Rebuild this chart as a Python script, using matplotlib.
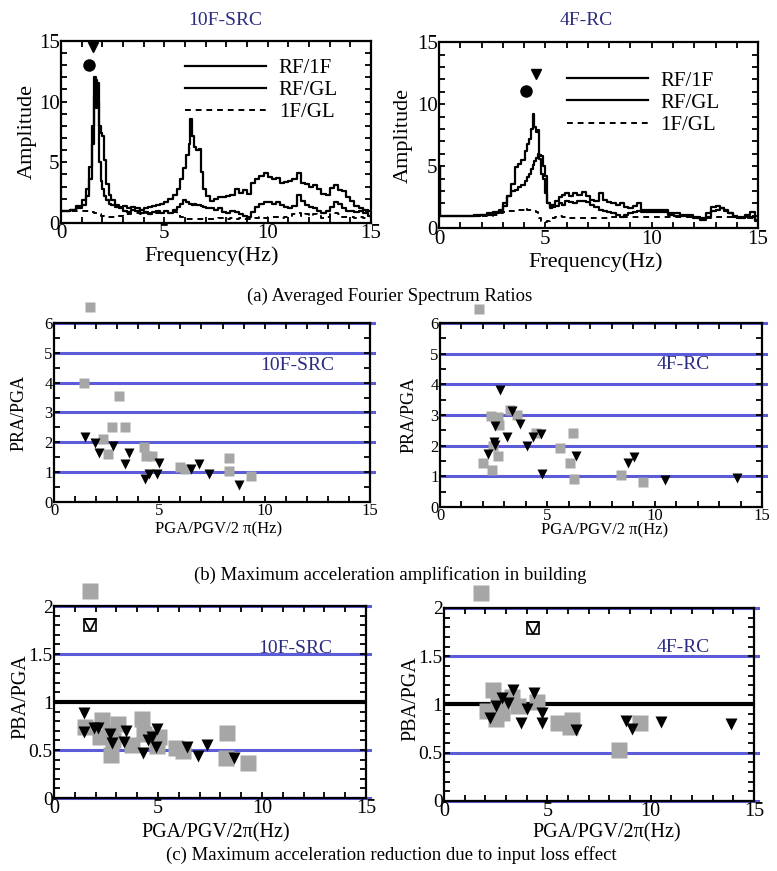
import matplotlib.pyplot as plt
from matplotlib.lines import Line2D
from matplotlib.ticker import MultipleLocator, FuncFormatter

plt.rcParams['font.family'] = ['Liberation Serif', 'DejaVu Serif']

NAVY = '#2b2b80'
BLUE = '#5c5cd8'
GRAY = '#a6a6a6'

# ---- (a) averaged Fourier spectrum ratios, 10F-SRC ----
freq_src = [0.0, 0.3, 0.6, 0.9, 1.1, 1.3, 1.45, 1.55, 1.65, 1.72,
            1.8, 1.88, 1.96, 2.05, 2.15, 2.25, 2.35, 2.5, 2.7, 2.9,
            3.1, 3.3, 3.5, 3.7, 3.9, 4.1, 4.3, 4.5, 4.7, 4.9,
            5.1, 5.3, 5.5, 5.7, 5.85, 6.0, 6.12, 6.22, 6.3, 6.38,
            6.48, 6.6, 6.72, 6.82, 6.95, 7.1, 7.3, 7.5, 7.7, 7.9,
            8.1, 8.3, 8.5, 8.7, 8.9, 9.1, 9.3, 9.5, 9.7, 9.9,
            10.1, 10.3, 10.5, 10.7, 10.9, 11.1, 11.3, 11.5, 11.7, 11.9,
            12.1, 12.3, 12.5, 12.7, 12.9, 13.1, 13.3, 13.5, 13.7, 13.9,
            14.1, 14.3, 14.5, 14.7, 15.0]
src_rf_gl = [1.0, 1.0, 1.1, 1.4, 1.9, 2.8, 4.6, 8.0, 12.0, 9.5,
             11.5, 8.0, 7.4, 7.2, 5.2, 3.2, 2.3, 1.9, 1.5, 1.3,
             1.4, 1.2, 1.3, 1.2, 1.1, 1.2, 1.3, 1.4, 1.5, 1.6,
             1.7, 2.0, 2.3, 2.8, 3.6, 4.5, 5.6, 6.5, 8.6, 7.2,
             6.3, 6.0, 6.1, 4.2, 2.8, 2.2, 1.8, 2.0, 2.1, 2.1,
             2.2, 2.3, 2.8, 2.5, 2.7, 2.4, 3.3, 3.6, 3.9, 4.1,
             3.8, 3.6, 3.7, 3.3, 3.4, 3.5, 3.6, 4.1, 3.3, 3.2,
             3.0, 3.1, 2.8, 2.4, 2.3, 2.9, 3.1, 2.7, 2.6, 2.1,
             1.8, 1.4, 1.2, 1.1, 1.0]
src_rf_1f = [1.0, 1.0, 1.1, 1.2, 1.5, 2.2, 3.6, 6.5, 10.5, 11.8,
             10.0, 5.0, 3.5, 2.8, 2.2, 1.9, 1.6, 1.5, 1.3, 1.2,
             1.0, 0.9, 1.1, 1.0, 0.8, 0.9, 0.7, 0.9, 1.0, 0.8,
             1.0, 0.8, 1.1, 1.3, 1.6, 1.9, 1.7, 1.6, 1.6, 1.5,
             1.6, 1.5, 1.5, 1.4, 1.3, 1.2, 1.2, 1.1, 1.2, 0.9,
             0.8, 1.0, 0.9, 0.7, 0.6, 0.5, 0.9, 1.3, 1.6, 1.7,
             1.7, 1.6, 1.7, 1.5, 1.3, 1.2, 1.4, 2.3, 1.8, 1.5,
             1.3, 1.2, 1.0, 0.8, 1.0, 1.3, 1.7, 1.6, 1.2, 1.0,
             1.0, 0.9, 1.0, 0.8, 0.6]
src_1f_gl = [1.0, 1.0, 1.0, 1.0, 1.0, 1.0, 1.0, 0.9, 0.85, 0.8,
             0.8, 0.7, 0.6, 0.55, 0.5, 0.5, 0.5, 0.5, 0.55, 0.6,
             0.7, 0.7, 0.8, 0.8, 0.7, 0.8, 0.8, 0.9, 0.8, 0.9,
             1.0, 1.0, 0.9, 0.7, 0.5, 0.4, 0.3, 0.3, 0.3, 0.3,
             0.3, 0.3, 0.3, 0.3, 0.3, 0.3, 0.3, 0.3, 0.4, 0.4,
             0.3, 0.4, 0.3, 0.4, 0.3, 0.3, 0.3, 0.4, 0.5, 0.4,
             0.5, 0.5, 0.5, 0.4, 0.5, 0.6, 0.7, 0.8, 0.6, 0.7,
             0.6, 0.7, 0.6, 0.4, 0.5, 0.7, 0.8, 0.7, 0.5, 0.5,
             0.5, 0.4, 0.5, 0.4, 0.4]
src_peak_circle = (1.35, 13.0)
src_peak_tri = (1.56, 14.5)

# ---- (a) averaged Fourier spectrum ratios, 4F-RC ----
freq_rc = [0.0, 0.08, 0.3, 0.6, 0.9, 1.2, 1.5, 1.8, 2.1, 2.4,
           2.7, 2.9, 3.1, 3.3, 3.5, 3.65, 3.8, 3.95, 4.1, 4.2,
           4.3, 4.38, 4.45, 4.52, 4.6, 4.68, 4.76, 4.85, 4.95, 5.05,
           5.15, 5.25, 5.4, 5.55, 5.7, 5.85, 6.0, 6.2, 6.4, 6.6,
           6.8, 7.0, 7.2, 7.4, 7.6, 7.8, 8.0, 8.2, 8.4, 8.6,
           8.8, 9.0, 9.2, 9.4, 9.6, 9.8, 10.0, 10.3, 10.6, 10.9,
           11.2, 11.5, 11.8, 12.1, 12.4, 12.7, 12.9, 13.1, 13.3, 13.5,
           13.7, 13.9, 14.1, 14.3, 14.5, 14.7, 15.0]
rc_rf_gl = [5.0, 1.0, 1.0, 1.0, 1.0, 1.0, 1.0, 1.1, 1.1, 1.2,
            1.3, 1.5, 2.0, 2.6, 3.6, 4.9, 5.2, 5.5, 6.2, 6.8,
            7.2, 8.0, 9.2, 8.2, 7.8, 7.9, 5.6, 4.4, 4.0, 2.8,
            2.0, 1.7, 1.9, 2.2, 2.5, 2.7, 2.8, 2.6, 2.8, 2.7,
            2.9, 2.6, 2.3, 2.2, 2.8, 2.3, 2.1, 2.0, 1.9, 2.0,
            1.7, 1.6, 1.8, 2.0, 1.3, 1.3, 1.3, 1.3, 1.3, 1.2,
            1.2, 1.1, 1.1, 0.9, 0.8, 1.2, 1.7, 1.8, 1.6, 1.5,
            1.2, 1.0, 0.9, 0.9, 1.1, 1.3, 0.7]
rc_rf_1f = [5.0, 1.0, 1.0, 1.0, 1.0, 1.0, 1.0, 1.0, 1.1, 1.1,
            1.2, 1.3, 1.8, 2.6, 3.0, 3.1, 3.3, 3.5, 3.8, 4.1,
            4.4, 4.8, 5.1, 5.4, 5.7, 6.0, 5.9, 5.8, 5.0, 4.2,
            2.0, 1.6, 1.7, 1.8, 2.0, 1.9, 2.2, 2.1, 2.0, 2.2,
            2.2, 2.1, 1.9, 1.7, 1.5, 1.4, 1.3, 1.2, 1.1, 0.9,
            1.1, 1.2, 1.3, 1.4, 1.5, 1.5, 1.5, 1.5, 1.5, 1.1,
            1.0, 1.0, 1.0, 0.8, 0.7, 0.9, 1.4, 1.5, 1.6, 1.4,
            1.2, 0.9, 0.8, 0.8, 0.9, 0.9, 0.6]
rc_1f_gl = [1.0, 1.0, 1.0, 1.0, 1.0, 1.0, 1.0, 1.0, 1.0, 1.0,
            1.1, 1.2, 1.3, 1.4, 1.4, 1.5, 1.5, 1.5, 1.6, 1.5,
            1.5, 1.5, 1.5, 1.4, 1.3, 1.1, 0.8, 0.6, 0.5, 0.5,
            0.6, 0.7, 0.8, 0.9, 1.0, 0.9, 0.9, 0.8, 0.8, 0.8,
            0.8, 0.8, 0.8, 0.8, 0.8, 0.8, 0.8, 0.9, 0.9, 0.9,
            0.9, 0.9, 0.9, 0.9, 0.9, 0.9, 0.9, 0.9, 0.9, 0.9,
            0.9, 0.9, 0.9, 0.8, 0.8, 0.8, 0.9, 0.9, 0.9, 0.9,
            0.9, 0.8, 0.8, 0.8, 0.8, 0.8, 0.8]
rc_peak_circle = (4.1, 11.05)
rc_peak_tri = (4.58, 12.45)

# ---- (b) PRA/PGA ----
pra_src_sq_x = [1.73, 1.43, 3.09, 2.76, 3.39, 2.33, 2.57, 4.26, 4.36, 4.63, 5.97, 6.21, 8.30, 8.30, 9.36]
pra_src_sq_y = [6.54, 3.98, 3.55, 2.52, 2.52, 2.10, 1.60, 1.85, 1.54, 1.54, 1.18, 1.12, 1.48, 1.04, 0.86]
pra_src_tr_x = [1.49, 1.96, 2.14, 2.80, 3.56, 3.36, 4.31, 4.50, 4.89, 4.99, 6.48, 6.89, 7.37, 8.78]
pra_src_tr_y = [2.19, 1.98, 1.63, 1.87, 1.65, 1.27, 0.78, 0.95, 0.95, 1.31, 1.09, 1.27, 0.95, 0.58]

pra_rc_sq_x = [1.83, 2.02, 2.41, 2.38, 2.49, 2.72, 2.77, 2.72, 3.26, 3.58, 4.46, 5.57, 6.19, 6.06, 6.25, 8.43, 9.45]
pra_rc_sq_y = [6.46, 1.45, 1.22, 2.97, 1.98, 2.92, 2.67, 1.66, 3.17, 3.00, 2.40, 1.94, 2.42, 1.45, 0.92, 1.05, 0.82]
pra_rc_tr_x = [2.80, 2.25, 2.56, 2.52, 2.56, 3.14, 3.34, 3.73, 4.07, 4.32, 4.69, 4.74, 6.34, 8.78, 9.06, 10.49, 13.83]
pra_rc_tr_y = [3.83, 1.72, 2.64, 2.13, 2.02, 2.27, 3.13, 2.70, 1.99, 2.27, 2.38, 1.09, 1.67, 1.44, 1.62, 0.87, 0.93]

# ---- (c) PBA/PGA ----
pba_src_sq_x = [1.75, 1.48, 2.33, 2.20, 2.68, 2.76, 3.08, 2.84, 3.73, 4.21, 4.32, 5.06, 4.93, 5.89, 6.18, 8.30, 8.27, 9.35]
pba_src_sq_y = [2.16, 0.74, 0.81, 0.64, 0.69, 0.45, 0.77, 0.60, 0.55, 0.82, 0.67, 0.64, 0.54, 0.52, 0.49, 0.68, 0.42, 0.36]
pba_src_tr_x = [1.45, 1.45, 1.93, 2.12, 2.71, 2.81, 3.36, 3.48, 4.26, 4.53, 4.69, 4.96, 4.90, 6.41, 6.91, 7.34, 8.67]
pba_src_tr_y = [0.89, 0.69, 0.73, 0.73, 0.67, 0.57, 0.58, 0.70, 0.47, 0.60, 0.64, 0.72, 0.53, 0.53, 0.44, 0.55, 0.42]
pba_src_open = (1.72, 1.80)

pba_rc_sq_x = [1.77, 2.35, 2.06, 2.51, 2.80, 2.63, 3.27, 3.59, 4.48, 5.53, 6.17, 6.09, 8.47, 9.47]
pba_rc_sq_y = [2.15, 1.15, 0.93, 0.85, 0.91, 1.05, 1.08, 0.98, 1.03, 0.81, 0.84, 0.77, 0.53, 0.81]
pba_rc_tr_x = [2.22, 2.51, 2.79, 3.11, 3.35, 3.71, 4.04, 4.35, 4.72, 4.72, 6.38, 8.80, 9.12, 10.52, 13.87]
pba_rc_tr_y = [0.86, 0.98, 1.07, 1.01, 1.15, 0.81, 0.95, 1.12, 0.91, 0.81, 0.74, 0.83, 0.75, 0.82, 0.80]
pba_rc_open = (4.32, 1.79)


def style_axes(ax, ymax, ymaj, ymin, xsize, ysize):
    ax.set_xlim(0, 15)
    ax.set_ylim(0, ymax)
    ax.xaxis.set_major_locator(MultipleLocator(5))
    ax.xaxis.set_minor_locator(MultipleLocator(1))
    ax.yaxis.set_major_locator(MultipleLocator(ymaj))
    ax.yaxis.set_minor_locator(MultipleLocator(ymin))
    ax.yaxis.set_major_formatter(FuncFormatter(lambda v, p: f'{v:g}'))
    ax.tick_params(which='both', direction='in', top=True, right=True,
                   length=4, width=1.3, pad=2)
    ax.tick_params(axis='x', labelsize=xsize, pad=1)
    ax.tick_params(axis='y', labelsize=ysize, pad=1)
    for s in ax.spines.values():
        s.set_linewidth(1.6)


def place_labels(ax, xl, yl):
    ax.xaxis.label.set_va('center')
    ax.yaxis.label.set_va('center')
    ax.xaxis.set_label_coords(*xl)
    ax.yaxis.set_label_coords(*yl)


def spectrum(ax, f, rf1f, rfgl, f1gl, circ, tri, legend_anchor):
    ax.plot(f, f1gl, color='k', lw=1.4, ls=(0, (3, 2.5)), drawstyle='steps-mid')
    ax.plot(f, rf1f, color='k', lw=1.6, drawstyle='steps-mid')
    ax.plot(f, rfgl, color='k', lw=1.6, drawstyle='steps-mid')
    ax.plot(*circ, 'o', color='k', ms=8, clip_on=False)
    ax.plot(*tri, 'v', color='k', ms=7, clip_on=False)
    style_axes(ax, 15, 5, 1, 15, 15)
    handles = [Line2D([], [], color='k', lw=1.6),
               Line2D([], [], color='k', lw=1.6),
               Line2D([], [], color='k', lw=1.4, ls=(0, (3, 2.5)))]
    ax.legend(handles, ['RF/1F', 'RF/GL', '1F/GL'], loc='upper left',
              bbox_to_anchor=legend_anchor, frameon=False, fontsize=15,
              handlelength=3.9, handletextpad=0.6, labelspacing=0.12,
              borderpad=0, borderaxespad=0)
    ax.set_xlabel('Frequency(Hz)', fontsize=16)
    ax.set_ylabel('Amplitude', fontsize=16)


def scatter_panel(ax, sq_x, sq_y, tr_x, tr_y, ymax, grid, ms_sq, ms_tr, xsize, ysize):
    for g in grid:
        ax.axhline(g, xmin=0, xmax=1.012, color=BLUE, lw=2.2, clip_on=False, zorder=1)
    ax.plot(sq_x, sq_y, 's', color=GRAY, ms=ms_sq, mec='none', clip_on=False, zorder=3)
    ax.plot(tr_x, tr_y, 'v', color='k', ms=ms_tr, mec='none', clip_on=False, zorder=4)
    style_axes(ax, ymax, 1 if ymax > 3 else 0.5, 0.5 if ymax > 3 else 0.1, xsize, ysize)


fig = plt.figure(figsize=(7.77, 8.71), dpi=100)

# top row
ax1 = fig.add_axes([0.0785, 0.744, 0.399, 0.209])
spectrum(ax1, freq_src, src_rf_1f, src_rf_gl, src_1f_gl, src_peak_circle, src_peak_tri, (0.40, 0.905))
place_labels(ax1, (0.487, -0.18), (-0.11, 0.5))

ax2 = fig.add_axes([0.565, 0.738, 0.4106, 0.2135])
spectrum(ax2, freq_rc, rc_rf_1f, rc_rf_gl, rc_1f_gl, rc_peak_circle, rc_peak_tri, (0.40, 0.845))
place_labels(ax2, (0.49, -0.183), (-0.113, 0.5))

fig.text(0.29, 0.976, '10F-SRC', color=NAVY, fontsize=14, ha='center', va='center')
fig.text(0.755, 0.976, '4F-RC', color=NAVY, fontsize=14, ha='center', va='center')
fig.text(0.502, 0.66, '(a) Averaged Fourier Spectrum Ratios', fontsize=13.5, ha='center', va='center')

# middle row
ax3 = fig.add_axes([0.0695, 0.4237, 0.4067, 0.2055])
scatter_panel(ax3, pra_src_sq_x, pra_src_sq_y, pra_src_tr_x, pra_src_tr_y, 6, [1, 2, 3, 4, 5, 6], 7.5, 7.5, 12, 12)
ax3.text(0.77, 0.76, '10F-SRC', color=NAVY, fontsize=14, ha='center', va='center', transform=ax3.transAxes)
ax3.set_ylabel('PRA/PGA', fontsize=13)
ax3.set_xlabel('PGA/PGV/2 \u03c0(Hz)', fontsize=12)
place_labels(ax3, (0.52, -0.155), (-0.11, 0.5))

ax4 = fig.add_axes([0.5663, 0.4179, 0.4144, 0.2113])
scatter_panel(ax4, pra_rc_sq_x, pra_rc_sq_y, pra_rc_tr_x, pra_rc_tr_y, 6, [1, 2, 3, 4, 5, 6], 7.5, 7.5, 12, 12)
ax4.text(0.755, 0.772, '4F-RC', color=NAVY, fontsize=14, ha='center', va='center', transform=ax4.transAxes)
ax4.set_ylabel('PRA/PGA', fontsize=13)
ax4.set_xlabel('PGA/PGV/2 \u03c0(Hz)', fontsize=12)
place_labels(ax4, (0.51, -0.125), (-0.096, 0.5))

fig.text(0.502, 0.34, '(b) Maximum acceleration amplification in building', fontsize=13.5, ha='center', va='center')

# bottom row
ax5 = fig.add_axes([0.0695, 0.0838, 0.4015, 0.2204])
scatter_panel(ax5, pba_src_sq_x, pba_src_sq_y, pba_src_tr_x, pba_src_tr_y, 2, [0, 0.5, 1.5, 2], 11, 9, 14.5, 14)
ax5.axhline(1.0, color='k', lw=3, zorder=2)
ax5.plot(*pba_src_open, 's', mfc='white', mec='k', ms=9, mew=1.2, clip_on=False, zorder=5)
ax5.plot(*pba_src_open, 'v', mfc='none', mec='k', ms=8, mew=1.2, clip_on=False, zorder=6)
ax5.text(0.772, 0.78, '10F-SRC', color=NAVY, fontsize=14, ha='center', va='center', transform=ax5.transAxes)
ax5.set_ylabel('PBA/PGA', fontsize=14.5)
ax5.set_xlabel('PGA/PGV/2\u03c0(Hz)', fontsize=14.5)
place_labels(ax5, (0.52, -0.18), (-0.106, 0.53))

ax6 = fig.add_axes([0.5714, 0.0804, 0.399, 0.2216])
scatter_panel(ax6, pba_rc_sq_x, pba_rc_sq_y, pba_rc_tr_x, pba_rc_tr_y, 2, [0, 0.5, 1.5, 2], 11, 9, 14.5, 14)
ax6.axhline(1.0, color='k', lw=3, zorder=2)
ax6.plot(*pba_rc_open, 's', mfc='white', mec='k', ms=9, mew=1.2, clip_on=False, zorder=5)
ax6.plot(*pba_rc_open, 'v', mfc='none', mec='k', ms=8, mew=1.2, clip_on=False, zorder=6)
ax6.text(0.771, 0.793, '4F-RC', color=NAVY, fontsize=14, ha='center', va='center', transform=ax6.transAxes)
ax6.set_ylabel('PBA/PGA', fontsize=14.5)
ax6.set_xlabel('PGA/PGV/2\u03c0(Hz)', fontsize=14.5)
place_labels(ax6, (0.526, -0.166), (-0.106, 0.53))

fig.text(0.503, 0.018, '(c) Maximum acceleration reduction due to input loss effect', fontsize=13.5, ha='center', va='center')

fig.savefig('out.png', dpi=100)
